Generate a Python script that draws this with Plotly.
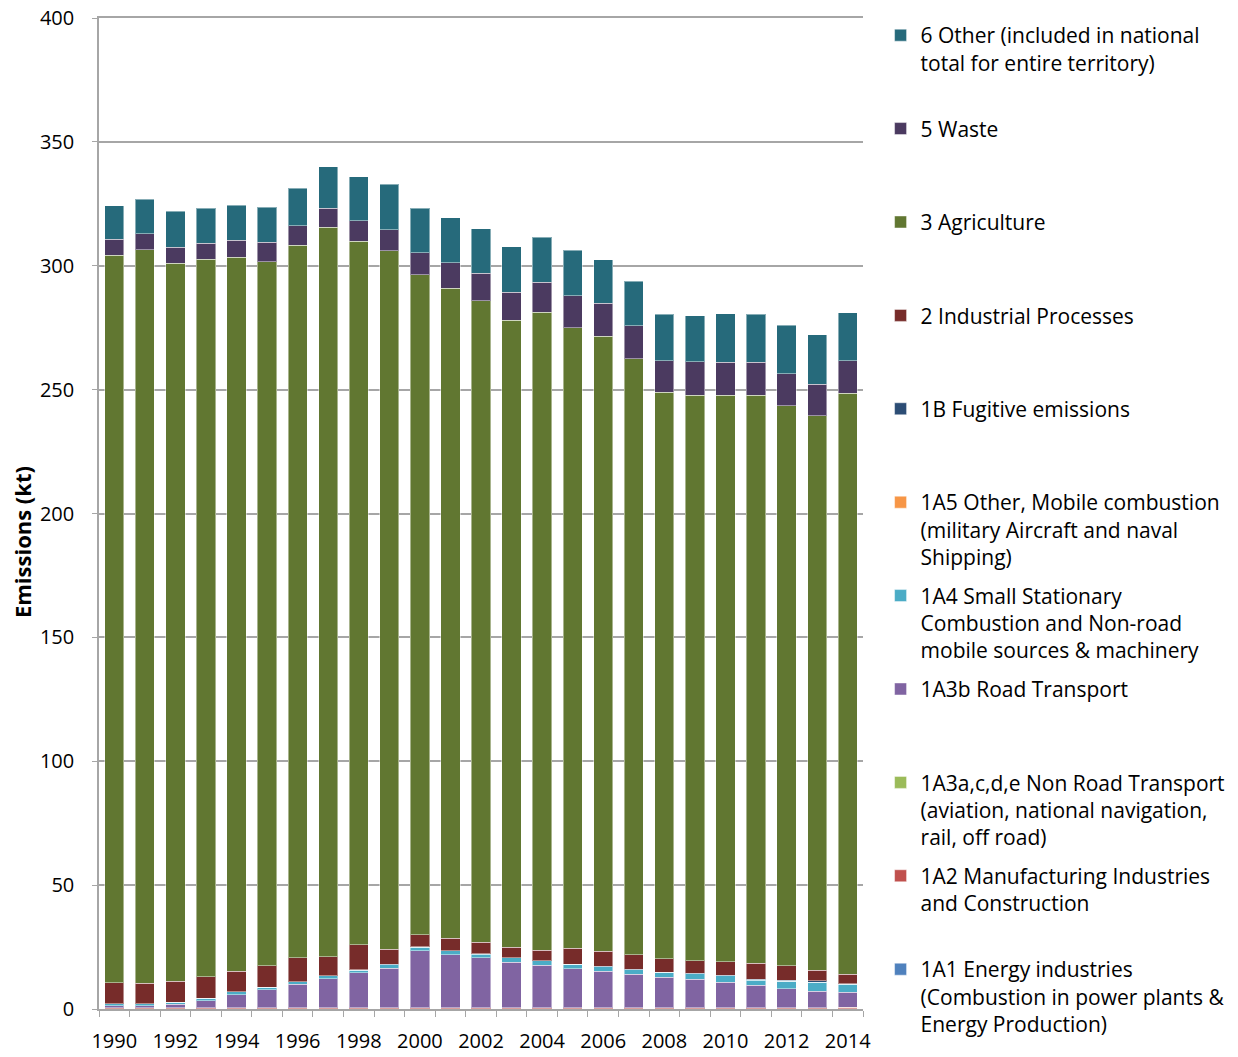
import plotly.graph_objects as go

years = [str(y) for y in range(1990, 2015)]
tick_labels = [y if int(y) % 2 == 0 else "" for y in years]

# Values in kt, bottom of stack first
energy_1A1 = [0.1] * 25
manuf_1A2 = [0.4] * 24 + [0.6]
nonroad_1A3a = [0.1] * 25
road_1A3b = [0.8, 0.7, 1.3, 2.8, 5.2, 7.2, 9.4, 11.6, 14.1, 15.9, 22.9, 21.3, 20.1,
             18.2, 17.0, 15.6, 14.6, 13.4, 12.2, 11.4, 10.2, 9.0, 7.6, 6.5, 5.9]
small_1A4 = [0.7, 0.8, 0.8, 0.9, 1.1, 0.9, 1.0, 1.2, 1.0, 1.4, 1.5, 1.6, 1.5,
             1.8, 1.8, 1.8, 1.9, 1.9, 2.0, 2.3, 2.6, 2.1, 3.0, 3.7, 3.3]
other_1A5 = [0.02] * 25
fugitive_1B = [0.05] * 20 + [0.2, 0.3, 0.4, 0.5, 0.2]
industrial_2 = [8.5, 8.2, 8.5, 8.6, 8.3, 8.7, 9.6, 7.6, 10.2, 6.1, 4.9, 4.9, 4.6,
                4.2, 4.2, 6.4, 6.1, 5.9, 5.4, 5.1, 5.5, 6.4, 5.9, 4.3, 3.8]
agriculture_3 = [293.6, 296.0, 289.7, 289.6, 288.2, 284.2, 287.7, 294.4, 283.9, 281.9,
                 266.4, 262.5, 259.1, 253.1, 257.5, 250.6, 248.2, 240.5, 228.6, 228.3,
                 228.7, 229.3, 226.0, 223.8, 234.5]
waste_5 = [6.4, 6.5, 6.6, 6.6, 6.8, 7.9, 7.8, 7.7, 8.3, 8.6, 8.9, 10.2, 11.0,
           11.3, 12.2, 12.8, 13.3, 13.4, 12.8, 13.5, 13.2, 13.3, 12.9, 12.7, 13.2]
other_6 = [13.6, 13.9, 14.4, 14.1, 14.1, 14.0, 15.2, 16.8, 17.8, 18.4, 17.9, 18.2, 18.0,
           18.4, 18.2, 18.4, 17.7, 18.0, 18.7, 18.5, 19.7, 19.4, 19.6, 20.1, 19.4]

PAD = "<br>\u00a0"
series = [
    ("1A1 Energy industries<br>(Combustion in power plants &amp;<br>Energy Production)", energy_1A1, "#4F81BD"),
    ("1A2 Manufacturing Industries<br>and Construction" + PAD, manuf_1A2, "#C0504D"),
    ("1A3a,c,d,e Non Road Transport<br>(aviation, national navigation,<br>rail, off road)", nonroad_1A3a, "#9BBB59"),
    ("1A3b Road Transport" + PAD + PAD, road_1A3b, "#8064A2"),
    ("1A4 Small Stationary<br>Combustion and Non-road<br>mobile sources &amp; machinery", small_1A4, "#4BACC6"),
    ("1A5 Other, Mobile combustion<br>(military Aircraft and naval<br>Shipping)", other_1A5, "#F79646"),
    ("1B Fugitive emissions" + PAD + PAD, fugitive_1B, "#2C4D75"),
    ("2 Industrial Processes" + PAD + PAD, industrial_2, "#772C2A"),
    ("3 Agriculture" + PAD + PAD, agriculture_3, "#617731"),
    ("5 Waste" + PAD + PAD, waste_5, "#4B3A60"),
    ("6 Other (included in national<br>total for entire territory)" + PAD, other_6, "#266A7B"),
]

fig = go.Figure()
for i, (name, vals, color) in enumerate(series):
    fig.add_trace(go.Bar(
        x=years, y=vals, name=name, legendgroup=f"g{i}", legendrank=1000 - 10 * i,
        marker=dict(color=color, line=dict(color="rgba(255,255,255,0.45)", width=1)),
    ))

font = "Open Sans, Liberation Sans, sans-serif"
fig.update_layout(
    width=1238, height=1057,
    barmode="stack", bargap=0.37,
    plot_bgcolor="white", paper_bgcolor="white",
    margin=dict(l=99, r=375, t=18, b=48, autoexpand=False),
    font=dict(family=font, size=20, color="black"),
    legend=dict(
        x=1.023, xanchor="left", y=1.003, yanchor="top",
        traceorder="grouped", tracegroupgap=8.5,
        valign="top", font=dict(size=21, family=font),
        itemclick=False, maxheight=1100,
    ),
    yaxis=dict(
        range=[0, 400], dtick=50, showgrid=True, gridcolor="#A6A6A6", gridwidth=1.5,
        showline=True, linecolor="#A6A6A6", linewidth=1.5, zeroline=False,
        ticks="outside", ticklen=5, tickcolor="#A6A6A6",
        ticklabelstandoff=14,
        title=dict(text="<b>Emissions (kt)" + "\u00a0" * 10 + "</b>",
                   font=dict(size=22, family=font), standoff=2),
    ),
    xaxis=dict(
        type="category", tickmode="array", tickvals=years, ticktext=tick_labels,
        tickson="boundaries", ticks="outside", ticklen=6, tickcolor="#A6A6A6",
        showline=True, mirror=True, linecolor="#A6A6A6", linewidth=1.5, showgrid=False,
        tickangle=0, ticklabelstandoff=13,
    ),
)

fig.write_html("out.html", config={"displayModeBar": False},
               post_script="document.body.style.margin='0';document.body.style.overflow='hidden';")
